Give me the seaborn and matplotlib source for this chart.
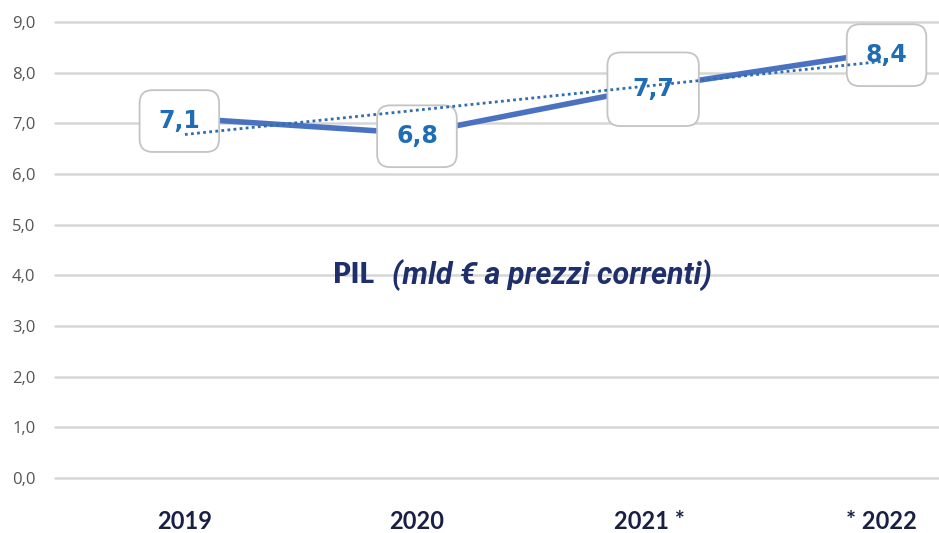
import numpy as np
import pandas as pd
import seaborn as sns
import matplotlib.pyplot as plt

anni = ['2019', '2020', '2021 *', '* 2022']
pil = [7.1, 6.8, 7.7, 8.4]
etichette = ['7,1', '6,8', '7,7', '8,4']
yticks = [0, 1, 2, 3, 4, 5, 6, 7, 8, 9]

df = pd.DataFrame({'anno': anni, 'pil': pil})
df['pos'] = range(len(df))

sns.set_style('white')
fig = plt.figure(figsize=(9.39, 5.33), dpi=100)
ax = fig.add_axes([55 / 939, 55 / 533, 1 - 55 / 939, 456 / 533])

sns.lineplot(data=df, x='pos', y='pil', ax=ax, color='#4a72c0', lw=4, zorder=3)

# linea di tendenza
coef = np.polyfit(df['pos'], df['pil'], 1)
ax.plot(df['pos'], np.polyval(coef, df['pos']), ls=(0, (1, 1.2)), color='#2e6db0', lw=2, zorder=6)

offs = [(-4, -2), (0, -2), (3, -1), (4, -2)]
pads = [0.8, 0.8, 1.05, 0.8]
for i, (v, lab) in enumerate(zip(pil, etichette)):
    ax.annotate(lab, (i, v), xytext=offs[i], textcoords='offset points',
                ha='center', va='center', fontsize=17, fontweight='bold', color='#1f6db5',
                zorder=5, annotation_clip=False,
                bbox=dict(boxstyle=f'round,pad={pads[i]},rounding_size=0.55',
                          fc='white', ec='#c4c4c4', lw=1.3))

ax.set_xlim(-0.56, 3.25)
ax.set_ylim(0, 9)
ax.set_yticks(yticks)
ax.set_yticklabels([f'{t},0' for t in yticks], fontsize=12, color='#555555', family='Open Sans')
ax.set_xticks(df['pos'])
ax.set_xticklabels(anni, fontsize=17, fontweight='bold', color='#1a1f45',
                   family=['Liberation Sans Narrow', 'Lato'])
ax.tick_params(axis='x', length=0, pad=23)
ax.tick_params(axis='y', length=0, pad=14)
ax.set_xlabel('')
ax.set_ylabel('')
for s in ax.spines.values():
    s.set_visible(False)
for t in yticks:
    ax.axhline(t, color='#d6d6d6', lw=1.8, zorder=1, clip_on=False)

tr = ax.get_yaxis_transform()
ax.text(0.3145, 4.0, 'PIL', fontsize=20, fontweight='heavy', color='#1f2f6b',
        family='Lato', ha='left', va='center', transform=tr)
ax.text(0.381, 4.0, '(mld € a prezzi correnti)', fontsize=22, fontweight='bold', style='italic',
        color='#1f2f6b', family='Roboto', ha='left', va='center', transform=tr)

fig.savefig('out.png', dpi=100)
